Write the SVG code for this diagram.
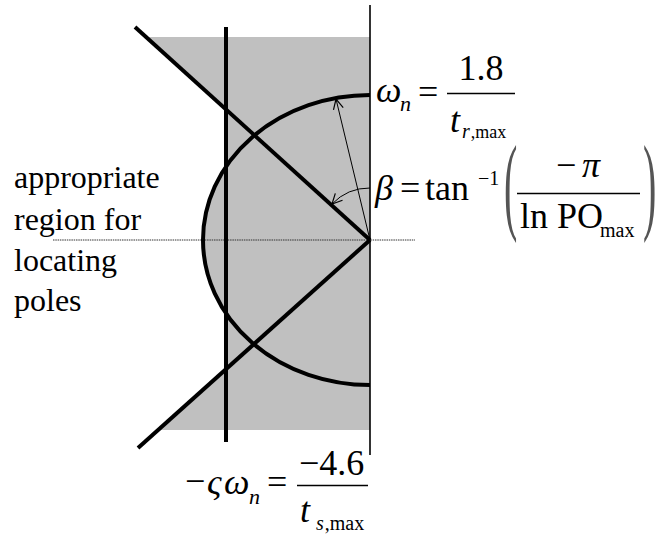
<svg xmlns="http://www.w3.org/2000/svg" width="660" height="538" viewBox="0 0 660 538">
<style>
  .f { font-family: "Liberation Serif", "Times New Roman", Times, "Nimbus Roman", FreeSerif, "DejaVu Serif", serif; fill: #000; }
  .m { font-size: 36px; }
  .s { font-size: 20px; }
  .i { font-style: italic; }
  .lbl { font-size: 32px; }
  .thick { stroke: #000; stroke-width: 4; fill: none; stroke-linecap: butt; }
  .bar { stroke: #000; stroke-width: 1.6; }
  .paren { fill: #555; }
</style>
<defs>
  <marker id="open" viewBox="0 0 12 12" refX="11" refY="6" markerWidth="12" markerHeight="12" markerUnits="userSpaceOnUse" orient="auto">
    <path d="M1,1 L11,6 L1,11" fill="none" stroke="#000" stroke-width="1.2"/>
  </marker>
</defs>
<rect width="660" height="538" fill="#fff"/>

<g id="shaded-region">
  <path d="M146,37 L370,37 L370,430 L158,430 L226,369.1 L226,313.4 A167,145 0 0 1 226,166.6 L226,109.5 Z" fill="#c0c0c0"/>
</g>

<g id="connectors">
  <line id="real-axis" x1="53" y1="240" x2="415" y2="240" stroke="#333" stroke-width="1" stroke-dasharray="1.5,0.8"/>
  <line id="imag-axis" x1="370" y1="5" x2="370" y2="455" stroke="#000" stroke-width="1.6"/>
  <line id="damping-upper" class="thick" x1="135" y1="27" x2="370" y2="240"/>
  <line id="damping-lower" class="thick" x1="370" y1="240" x2="138" y2="448"/>
  <line id="sigma-line" class="thick" x1="226" y1="27" x2="226" y2="442"/>
  <path id="omega-arc" class="thick" stroke-width="3.6" d="M370,95 A167,145 0 0 0 203,240 A167,145 0 0 0 370,385"/>
  <line id="omega-arrow" x1="370" y1="240" x2="336" y2="99" stroke="#000" stroke-width="1" marker-end="url(#open)"/>
  <path id="beta-arc" d="M370,188 A52,52 0 0 0 332,204" fill="none" stroke="#000" stroke-width="1" marker-end="url(#open)"/>
</g>

<g id="label-region" class="f">
  <text class="f lbl" x="14" y="188">appropriate</text>
  <text class="f lbl" x="14" y="230">region for</text>
  <text class="f lbl" x="14" y="271">locating</text>
  <text class="f lbl" x="14" y="311">poles</text>
</g>

<g id="label-omega" class="f">
  <text class="f m i" x="376" y="102">ω</text>
  <text class="f i" font-size="22" x="400" y="111">n</text>
  <text class="f m" x="418" y="104">=</text>
  <line class="bar" x1="447" y1="93.5" x2="515" y2="93.5"/>
  <text class="f m" x="481" y="80" text-anchor="middle">1.8</text>
  <text class="f m i" x="450" y="132">t</text>
  <text class="f" font-size="18" x="462" y="138"><tspan font-style="italic" font-size="20">r</tspan><tspan dx="1">,max</tspan></text>
</g>

<g id="label-beta" class="f">
  <text class="f m i" x="375" y="200">β</text>
  <text class="f m" x="400" y="200">=</text>
  <text class="f m" x="425" y="200">tan</text>
  <text class="f" font-size="20" x="478" y="185">−1</text>
  <text class="f paren" font-size="40" transform="translate(504,220) scale(1,2.7)">(</text>
  <text class="f m" x="556" y="177">−</text>
  <text class="f m i" x="582" y="177">π</text>
  <line class="bar" x1="517" y1="193.5" x2="640" y2="193.5"/>
  <text class="f m" x="520" y="228">ln PO</text>
  <text class="f s" x="600" y="237">max</text>
  <text class="f paren" font-size="40" transform="translate(643,220) scale(1,2.7)">)</text>
</g>

<g id="label-sigma" class="f">
  <text class="f m" x="185" y="493">−</text>
  <text class="f m i" x="207" y="494">ς</text>
  <text class="f m i" x="224" y="494">ω</text>
  <text class="f i" font-size="22" x="249" y="504">n</text>
  <text class="f m" x="267" y="494">=</text>
  <line class="bar" x1="297" y1="485.5" x2="368" y2="485.5"/>
  <text class="f m" x="299" y="475">−4.6</text>
  <text class="f m i" x="300" y="522">t</text>
  <text class="f s" x="316" y="530"><tspan font-style="italic">s</tspan><tspan dx="1">,max</tspan></text>
</g>
</svg>
